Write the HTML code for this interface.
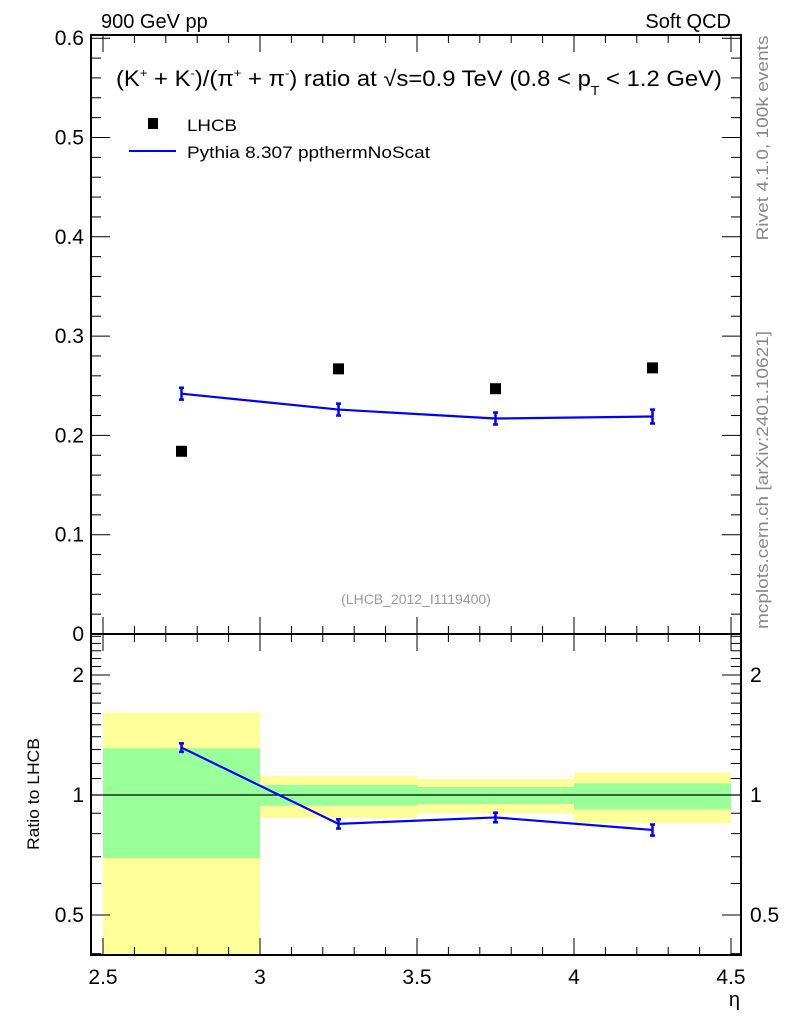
<!DOCTYPE html>
<html><head><meta charset="utf-8"><style>
html,body{margin:0;padding:0;background:#fff;}
svg{display:block;font-family:"Liberation Sans",Arial,sans-serif;}
</style></head><body>
<svg id="c" width="786" height="1024" viewBox="0 0 786 1024">
<text x="101" y="28" font-size="20">900 GeV pp</text>
<text x="731" y="28" font-size="20" text-anchor="end">Soft QCD</text>
<text x="116" y="86" font-size="22" textLength="606" lengthAdjust="spacingAndGlyphs">(K<tspan font-size="12" dy="-9">+</tspan><tspan dy="9"> + K</tspan><tspan font-size="12" dy="-9">-</tspan><tspan dy="9">)/(π</tspan><tspan font-size="12" dy="-9">+</tspan><tspan dy="9"> + π</tspan><tspan font-size="12" dy="-9">-</tspan><tspan dy="9">) ratio at √s=0.9 TeV (0.8 &lt; p</tspan><tspan font-size="13" dy="9">T</tspan><tspan dy="-9"> &lt; 1.2 GeV)</tspan></text>
<rect x="148" y="118" width="10" height="11" fill="#000"/>
<text x="187" y="131" font-size="17" textLength="50" lengthAdjust="spacingAndGlyphs">LHCB</text>
<line x1="129" y1="151" x2="176" y2="151" stroke="#0000ff" stroke-width="2"/>
<text x="187" y="158" font-size="17" textLength="243" lengthAdjust="spacingAndGlyphs">Pythia 8.307 ppthermNoScat</text>
<text x="416" y="604" font-size="14" fill="#999" text-anchor="middle">(LHCB_2012_I1119400)</text>
<text transform="translate(768,138) rotate(-90)" font-size="17" fill="#888" text-anchor="middle" textLength="205" lengthAdjust="spacingAndGlyphs">Rivet 4.1.0,  100k events</text>
<text transform="translate(768,480) rotate(-90)" font-size="17" fill="#888" text-anchor="middle" textLength="298" lengthAdjust="spacingAndGlyphs">mcplots.cern.ch [arXiv:2401.10621]</text>
<text transform="translate(39,794) rotate(-90)" font-size="17" text-anchor="middle" textLength="112" lengthAdjust="spacingAndGlyphs">Ratio to LHCB</text>
<text x="740" y="1006" font-size="20" text-anchor="end">η</text>
<g id="g"></g>
</svg>
<script>
const binEdges=[2.5,3.0,3.5,4.0,4.5];
const etaCenters=[2.75,3.25,3.75,4.25];
const lhcbValues=[0.184,0.267,0.247,0.268];
const pythiaValues=[0.242,0.226,0.217,0.219];
const pythiaErrors=[0.006,0.006,0.006,0.007];
const bandYellowHi=[1.61,1.116,1.097,1.14];
const bandYellowLo=[0.36,0.876,0.90,0.85];
const bandGreenHi=[1.31,1.06,1.047,1.07];
const bandGreenLo=[0.695,0.94,0.95,0.92];
const mainTicks=[0,0.1,0.2,0.3,0.4,0.5,0.6];
const mainTickLabels=["0","0.1","0.2","0.3","0.4","0.5","0.6"];
const xTicks=[2.5,3,3.5,4,4.5];
const xTickLabels=["2.5","3","3.5","4","4.5"];
const ratioTicks=[0.5,1,2];
const ratioTickLabels=["0.5","1","2"];

const NS="http://www.w3.org/2000/svg";
const g=document.getElementById('g');
const L=91,R=741,T=35,MB=634,RB=955;
const X=v=>103+(v-2.5)*314;
const Y=v=>634-v*993;
const RY=v=>795-Math.log10(v)*398.7;
const rMin=Math.pow(10,-(RB-795)/398.7), rMax=Math.pow(10,(795-MB)/398.7);
function mk(t,a,name){const e=document.createElementNS(NS,t);for(const k in a)e.setAttribute(k,a[k]);


g.appendChild(e);return e;}
function ln(x1,y1,x2,y2,name,c,w){return mk('line',{x1,y1,x2,y2,stroke:c||'#000','stroke-width':w||1},name);}
function tx(x,y,s,name,anchor,size){const e=mk('text',{x,y,'font-size':size||21,'text-anchor':anchor||'middle'},name);e.textContent=s;return e;}

for(let i=0;i<4;i++){
 const x1=X(binEdges[i]),x2=X(binEdges[i+1]);
 const yh=RY(Math.min(bandYellowHi[i],rMax)),yl=RY(Math.max(bandYellowLo[i],rMin));
 mk('rect',{x:x1,y:yh,width:x2-x1,height:yl-yh,fill:'#ffff99'},'ratio-band-yellow');
 const gh=RY(Math.min(bandGreenHi[i],rMax)),gl=RY(Math.max(bandGreenLo[i],rMin));
 mk('rect',{x:x1,y:gh,width:x2-x1,height:gl-gh,fill:'#99ff99'},'ratio-band-green');
}
ln(L,RY(1),R,RY(1),'ratio-unity-line','#000',1.3);

mk('rect',{x:L,y:T,width:R-L,height:MB-T,fill:'none',stroke:'#000','stroke-width':2},'main-frame');
mk('rect',{x:L,y:MB,width:R-L,height:RB-MB,fill:'none',stroke:'#000','stroke-width':2},'ratio-frame');

for(let k=0;k<=20;k++){const v=2.5+k*0.1,x=X(v),maj=k%5===0,len=maj?17:8;
 ln(x,MB,x,MB-len,'main-x-tick');ln(x,T,x,T+len,'main-x-tick-top');
 ln(x,RB,x,RB-len,'ratio-x-tick');ln(x,MB,x,MB+len,'ratio-x-tick-top');}
xTicks.forEach((v,i)=>tx(X(v),984,xTickLabels[i],'x-tick-label'));
for(let k=0;k<=30;k++){const v=k*0.02,y=Y(v),maj=k%5===0,len=maj?19:10;
 ln(L,y,L+len,y,'main-y-tick');ln(R,y,R-len,y,'main-y-tick-right');}
mainTicks.forEach((v,i)=>tx(84,Y(v)+7,mainTickLabels[i],'main-y-tick-label','end'));
const minor=[0.4,0.5,0.6,0.7,0.8,0.9,1,1.1,1.2,1.3,1.4,1.5,1.6,1.7,1.8,1.9,2,2.1,2.2,2.3,2.4,2.5];
minor.forEach(v=>{if(v<rMin||v>rMax)return;const y=RY(v),maj=ratioTicks.includes(v),len=maj?19:10;
 ln(L,y,L+len,y,'ratio-y-tick');ln(R,y,R-len,y,'ratio-y-tick-right');});
ratioTicks.forEach((v,i)=>{tx(84,RY(v)+7,ratioTickLabels[i],'ratio-y-tick-label','end');
 tx(750,RY(v)+7,ratioTickLabels[i],'ratio-y-tick-label-right','start');});

lhcbValues.forEach((v,i)=>mk('rect',{x:X(etaCenters[i])-5.5,y:Y(v)-5.5,width:11,height:11,fill:'#000'},'lhcb-point'));
mk('polyline',{points:etaCenters.map((e,i)=>X(e)+','+Y(pythiaValues[i])).join(' '),fill:'none',stroke:'#0000ff','stroke-width':2.2},'pythia-line');
pythiaValues.forEach((v,i)=>{const x=X(etaCenters[i]),a=Y(v+pythiaErrors[i]),b=Y(v-pythiaErrors[i]);
 ln(x,a,x,b,'pythia-error-bar','#0000ff',2.5);ln(x-2.5,a,x+2.5,a,'pythia-error-cap','#0000ff',2.5);ln(x-2.5,b,x+2.5,b,'pythia-error-cap','#0000ff',2.5);});
const ratios=pythiaValues.map((v,i)=>v/lhcbValues[i]);
mk('polyline',{points:etaCenters.map((e,i)=>X(e)+','+RY(ratios[i])).join(' '),fill:'none',stroke:'#0000ff','stroke-width':2.2},'ratio-pythia-line');
ratios.forEach((r,i)=>{const x=X(etaCenters[i]),er=pythiaErrors[i]/lhcbValues[i],a=RY(r+er),b=RY(r-er);
 ln(x,a,x,b,'ratio-error-bar','#0000ff',2.5);ln(x-2.5,a,x+2.5,a,'ratio-error-cap','#0000ff',2.5);ln(x-2.5,b,x+2.5,b,'ratio-error-cap','#0000ff',2.5);});
</script>
</body></html>
